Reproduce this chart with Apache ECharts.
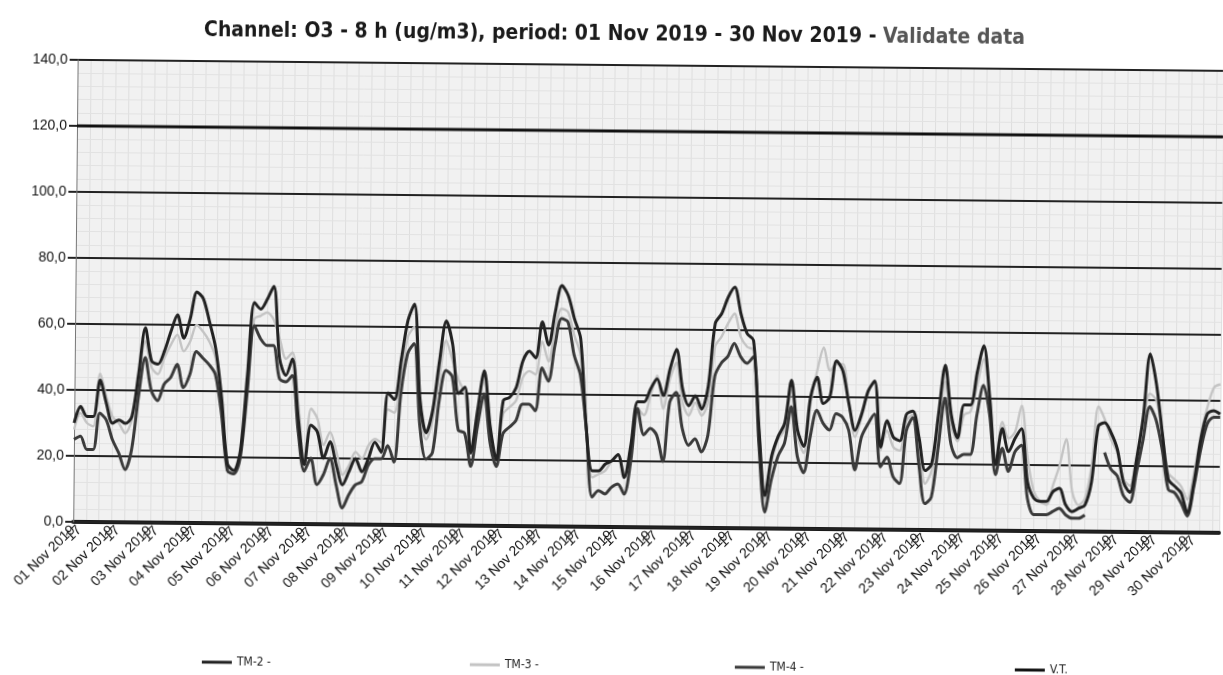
<!DOCTYPE html>
<html>
<head>
<meta charset="utf-8">
<script src="https://cdn.jsdelivr.net/npm/echarts@6/dist/echarts.min.js"></script>
<style>
  html, body { margin: 0; padding: 0; background: #ffffff; overflow: hidden; }
  #chart { width: 1223px; height: 675px; transform: rotate(0.55deg); transform-origin: 50% 50%; }
</style>
</head>
<body>
<div id="chart"></div>
<script>
// ---- data (6 samples per day, 01 Nov 2019 .. 30 Nov 2019) ----
const dayLabels = ['01 Nov 2019','02 Nov 2019','03 Nov 2019','04 Nov 2019','05 Nov 2019','06 Nov 2019',
  '07 Nov 2019','08 Nov 2019','09 Nov 2019','10 Nov 2019','11 Nov 2019','12 Nov 2019','13 Nov 2019',
  '14 Nov 2019','15 Nov 2019','16 Nov 2019','17 Nov 2019','18 Nov 2019','19 Nov 2019','20 Nov 2019',
  '21 Nov 2019','22 Nov 2019','23 Nov 2019','24 Nov 2019','25 Nov 2019','26 Nov 2019','27 Nov 2019',
  '28 Nov 2019','29 Nov 2019','30 Nov 2019'];
const hourTickLabel = '17';
const slotsPerDay = 6;

const yTicks = [0, 20, 40, 60, 80, 100, 120, 140];
const vtLimit = 120;

const tm2 = [
  30,35,32,32,43,36, 30,31,30,32,45,59, 49,48,52,58,63,56, 62,70,68,61,53,38, 18,16,22,45,67,65,
  68,72,50,45,50,32, 18,30,28,20,25,18, 12,16,20,16,20,25, 22,40,38,50,62,67, 38,28,35,50,62,55,
  40,42,22,35,47,30, 20,38,39,42,50,53, 51,62,55,65,73,70, 63,57,30,17,17,19, 20,22,15,25,38,38,
  42,45,40,48,54,42, 37,40,36,43,62,65, 70,73,65,59,57,30, 10,22,28,32,45,30, 25,40,46,38,40,51,
  48,38,30,35,42,45, 25,33,28,27,35,36, 28,18,20,35,50,35, 28,38,38,48,56,40, 20,31,24,28,31,15,
  10,9,9,12,13,8, 6,7,8,15,32,33, 30,25,15,12,22,35, 54,45,30,16,14,12, 6,15,28,36,37,36
];
const tm3 = [
  28,33,30,29,45,38, 32,30,27,31,43,55, 47,45,50,54,57,52, 55,60,58,55,50,36, 18,16,21,42,62,63,
  64,62,56,50,52,36, 20,35,32,24,28,22, 15,18,22,20,24,26, 25,35,34,45,57,60, 35,26,32,45,56,50,
  44,40,22,34,46,30, 20,34,36,38,45,47, 46,56,50,60,66,65, 58,52,28,15,16,17, 20,22,16,24,36,34,
  40,46,36,45,50,38, 34,38,34,38,55,58, 62,65,58,55,54,30, 9,20,27,30,42,28, 23,38,48,55,48,50,
  50,38,28,34,42,45, 24,30,25,24,33,35, 26,14,18,30,45,32, 27,35,36,44,52,40, 22,33,28,30,38,22,
  12,9,8,14,20,28, 12,8,10,20,38,34, 28,24,16,14,22,33, 42,40,30,18,16,14, 10,18,30,38,44,45
];
const tm4 = [
  25,26,22,22,33,31, 25,21,16,22,38,50, 40,37,42,44,48,41, 45,52,50,48,45,33, 16,15,20,40,60,56,
  54,54,44,43,45,28, 16,20,12,15,20,12, 5,9,12,13,18,20, 20,24,19,40,52,55, 30,20,22,38,47,45,
  29,28,18,30,40,25, 18,28,30,32,37,37, 35,48,44,55,63,62, 52,46,30,9,11,10, 12,13,10,20,36,28,
  30,28,20,38,41,30, 25,27,23,28,46,50, 52,56,52,50,52,25, 5,15,22,26,37,22, 17,28,36,32,30,35,
  34,30,18,28,32,35, 19,22,16,14,30,34, 20,8,10,25,40,26, 22,23,23,35,44,35, 17,25,18,24,26,10,
  5,5,5,6,7,5, 4,4,5,null,null,24, 19,17,11,9,18,28, 38,34,25,13,12,9, 5,14,25,33,35,35
];

// ---- build categories ----
const categories = [];
dayLabels.forEach(d => {
  for (let s = 0; s < slotsPerDay; s++) {
    categories.push(s === 0 ? d : (s === 1 ? hourTickLabel : ''));
  }
});
const vtData = categories.map(() => vtLimit);

const chart = echarts.init(document.getElementById('chart'), null, { renderer: 'canvas' });
const narrow = "'Liberation Sans Narrow', 'DejaVu Sans Condensed', 'Liberation Sans', Arial, sans-serif";
const legendBase = {
  top: 655, itemWidth: 30, itemHeight: 3, icon: 'rect', itemGap: 4,
  textStyle: { fontFamily: narrow, fontSize: 12, color: '#222' }
};

chart.setOption({
  animation: false,
  backgroundColor: '#ffffff',
  title: {
    left: 'center', top: 19,
    text: '{a|Channel: O3 - 8 h (ug/m3), period: 01 Nov 2019 - 30 Nov 2019 - }{b|Validate data}',
    textStyle: {
      rich: {
        a: { fontFamily: narrow, fontWeight: 'bold', fontSize: 21, color: '#1a1a1a' },
        b: { fontFamily: narrow, fontWeight: 'bold', fontSize: 21, color: '#555555' }
      }
    }
  },
  legend: [
    Object.assign({ left: 200, data: ['TM-2 -'] }, legendBase),
    Object.assign({ left: 468, data: ['TM-3 -'] }, legendBase),
    Object.assign({ left: 733, data: ['TM-4 -'] }, legendBase),
    Object.assign({ left: 1013, data: ['V.T.'] }, legendBase)
  ],
  grid: {
    left: 75, right: -6, top: 65, bottom: 148,
    show: true, backgroundColor: '#f1f1f1', borderWidth: 0
  },
  xAxis: {
    type: 'category',
    z: 0,
    data: categories,
    boundaryGap: false,
    axisLine: { show: true, lineStyle: { color: '#1a1a1a', width: 4 } },
    axisTick: { show: false },
    axisLabel: {
      interval: 0, rotate: 45, fontFamily: 'Liberation Sans, Arial, sans-serif',
      fontSize: 14, color: '#111111', margin: 6
    },
    splitLine: { show: true, interval: 1, lineStyle: { color: '#dedede', width: 1 } }
  },
  yAxis: {
    type: 'value',
    z: 1,
    min: 0, max: 140, interval: 20,
    axisLine: { show: true, lineStyle: { color: '#777', width: 1 } },
    axisTick: { show: true, length: 8, lineStyle: { color: '#222', width: 2 } },
    axisLabel: {
      fontFamily: 'Liberation Sans, Arial, sans-serif', fontSize: 14, color: '#111111', margin: 10,
      formatter: v => yTicks.indexOf(v) >= 0 ? v.toFixed(1).replace('.', ',') : ''
    },
    splitLine: { show: true, lineStyle: { color: '#222222', width: 2 } },
    minorTick: { show: false, splitNumber: 5 },
    minorSplitLine: { show: true, lineStyle: { color: '#e2e2e2', width: 1 } }
  },
  series: [
    { name: 'TM-3 -', type: 'line', data: tm3, symbol: 'none', smooth: 0.3,
      lineStyle: { color: '#c4c4c4', width: 2.4 }, itemStyle: { color: '#c4c4c4' }, z: 2 },
    { name: 'TM-4 -', type: 'line', data: tm4, symbol: 'none', smooth: 0.3,
      lineStyle: { color: '#3a3a3a', width: 3 }, itemStyle: { color: '#3a3a3a' }, z: 3 },
    { name: 'TM-2 -', type: 'line', data: tm2, symbol: 'none', smooth: 0.3,
      lineStyle: { color: '#222222', width: 3 }, itemStyle: { color: '#222222' }, z: 4 },
    { name: 'V.T.', type: 'line', data: vtData, symbol: 'none',
      lineStyle: { color: '#111111', width: 3 }, itemStyle: { color: '#111111' }, z: 5 }
  ]
});
</script>
</body>
</html>
